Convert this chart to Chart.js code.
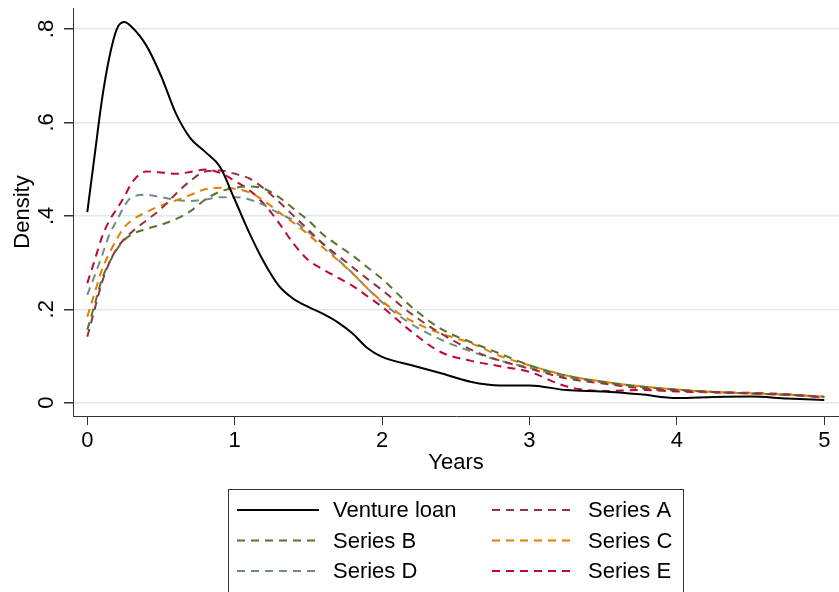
<!DOCTYPE html>
<html>
<head>
<meta charset="utf-8">
<script src="https://cdn.jsdelivr.net/npm/chart.js@4/dist/chart.umd.min.js"></script>
<style>
  html, body { margin: 0; padding: 0; background: #fff; }
  #wrap { width: 839px; height: 592px; }
</style>
</head>
<body>
<div id="wrap"><canvas id="c" width="839" height="592"></canvas></div>
<script>
// kernel density estimates
const years = [0, 0.05, 0.1, 0.15, 0.2, 0.25, 0.3, 0.4, 0.5, 0.6, 0.7, 0.8, 0.9, 1.0,
  1.1, 1.2, 1.3, 1.4, 1.5, 1.6, 1.7, 1.8, 1.9, 2.0, 2.2, 2.4, 2.6, 2.8, 3.0,
  3.25, 3.5, 3.75, 4.0, 4.25, 4.5, 4.75, 5.0];

const ventureLoan = [.408, .53, .65, .74, .80, .815, .805, .765, .70, .62, .566, .537, .505, .435,
  .363, .30, .25, .222, .205, .19, .172, .148, .117, .098, .08, .063, .045, .037, .037,
  .027, .024, .018, .010, .012, .013, .009, .006];
const seriesA = [.141, .20, .258, .30, .33, .35, .365, .39, .415, .447, .475, .495, .497, .49,
  .48, .458, .43, .40, .37, .34, .315, .29, .265, .241, .19, .148, .114, .09, .073,
  .052, .041, .031, .026, .023, .02, .017, .012];
const seriesB = [.156, .21, .265, .30, .328, .348, .36, .372, .381, .393, .41, .435, .452, .46,
  .463, .458, .44, .415, .39, .36, .337, .315, .29, .265, .205, .158, .13, .105, .08,
  .058, .045, .035, .028, .023, .02, .017, .013];
const seriesC = [.184, .235, .285, .32, .35, .375, .39, .408, .422, .433, .445, .457, .46, .458,
  .45, .432, .408, .385, .36, .332, .305, .277, .245, .217, .175, .148, .128, .10, .08,
  .058, .045, .035, .028, .023, .02, .017, .013];
const seriesD = [.231, .272, .315, .36, .39, .42, .44, .445, .44, .434, .432, .435, .44, .44,
  .435, .423, .405, .39, .365, .34, .307, .277, .245, .215, .168, .135, .11, .09, .075,
  .055, .043, .034, .028, .023, .02, .017, .012];
const seriesE = [.256, .305, .355, .39, .415, .44, .47, .495, .493, .49, .494, .499, .492, .475,
  .455, .425, .385, .34, .305, .285, .268, .25, .228, .205, .152, .108, .09, .078, .066,
  .035, .025, .027, .024, .022, .021, .018, .011];

const xTicks = [0, 1, 2, 3, 4, 5];
const yTicks = [0, 0.2, 0.4, 0.6, 0.8];
const yTickLabels = ['0', '.2', '.4', '.6', '.8'];

const FONT = '"Liberation Sans", Arial, Helvetica, sans-serif';

function series(label, values, color, dashed) {
  return {
    label,
    data: years.map((x, i) => ({x, y: values[i]})),
    borderColor: color,
    borderWidth: 2,
    borderDash: dashed ? [8, 6] : [],
    pointRadius: 0,
    fill: false,
    cubicInterpolationMode: 'monotone',
  };
}

// legend order: two columns, filled row by row
const datasets = [
  series('Venture loan', ventureLoan, '#000000', false),
  series('Series A', seriesA, '#90353b', true),
  series('Series B', seriesB, '#55752f', true),
  series('Series C', seriesC, '#e37e00', true),
  series('Series D', seriesD, '#6e8e84', true),
  series('Series E', seriesE, '#c10534', true),
];

// texts, rotated y labels and the boxed legend, Stata style
const stataText = {
  id: 'stataText',
  afterDraw(chart) {
    const {ctx, chartArea, scales: {x, y}} = chart;
    ctx.save();
    ctx.fillStyle = '#000';
    ctx.font = `22px ${FONT}`;

    ctx.textAlign = 'center';
    ctx.textBaseline = 'alphabetic';
    xTicks.forEach(v => ctx.fillText(String(v), x.getPixelForValue(v), 447));
    ctx.fillText('Years', (chartArea.left + chartArea.right) / 2, 469);

    yTicks.forEach((v, i) => {
      ctx.save();
      ctx.translate(53, y.getPixelForValue(v));
      ctx.rotate(-Math.PI / 2);
      ctx.fillText(yTickLabels[i], 0, 0);
      ctx.restore();
    });
    ctx.save();
    ctx.translate(28.5, (chartArea.top + chartArea.bottom) / 2);
    ctx.rotate(-Math.PI / 2);
    ctx.fillText('Density', 0, 0);
    ctx.restore();

    // legend box
    ctx.strokeStyle = '#333';
    ctx.lineWidth = 1;
    ctx.strokeRect(228.5, 489.5, 455, 120);
    const cols = [{line: 237, text: 333}, {line: 492, text: 588}];
    const rows = [517, 547.5, 578];
    chart.data.datasets.forEach((ds, i) => {
      const c = cols[i % 2], base = rows[Math.floor(i / 2)];
      ctx.beginPath();
      ctx.strokeStyle = ds.borderColor;
      ctx.lineWidth = ds.borderWidth;
      ctx.setLineDash(ds.borderDash);
      ctx.moveTo(c.line, base - 7);
      ctx.lineTo(c.line + 82, base - 7);
      ctx.stroke();
      ctx.setLineDash([]);
      ctx.textAlign = 'left';
      ctx.fillText(ds.label, c.text, base);
    });
    ctx.restore();
  }
};

new Chart(document.getElementById('c'), {
  type: 'line',
  data: {datasets},
  plugins: [stataText],
  options: {
    responsive: false,
    animation: false,
    devicePixelRatio: 1,
    layout: {padding: {top: 8, right: 0, left: 0, bottom: 0}},
    plugins: {legend: {display: false}, tooltip: {enabled: false}},
    scales: {
      x: {
        type: 'linear',
        min: -0.097,
        max: 5.10,
        afterBuildTicks: s => { s.ticks = xTicks.map(value => ({value})); },
        afterFit: s => { s.height = 176; },
        ticks: {display: false},
        grid: {drawOnChartArea: false, drawTicks: true, tickLength: 9, tickColor: '#333'},
        border: {color: '#333', width: 1},
      },
      y: {
        min: -0.0285,
        max: 0.845,
        afterBuildTicks: s => { s.ticks = yTicks.map(value => ({value})); },
        afterFit: s => { s.width = 73; },
        ticks: {display: false},
        grid: {color: '#dde8eb', lineWidth: 1.5, drawTicks: true, tickLength: 9, tickColor: '#333'},
        border: {color: '#333', width: 1},
      },
    },
  },
});
</script>
</body>
</html>
